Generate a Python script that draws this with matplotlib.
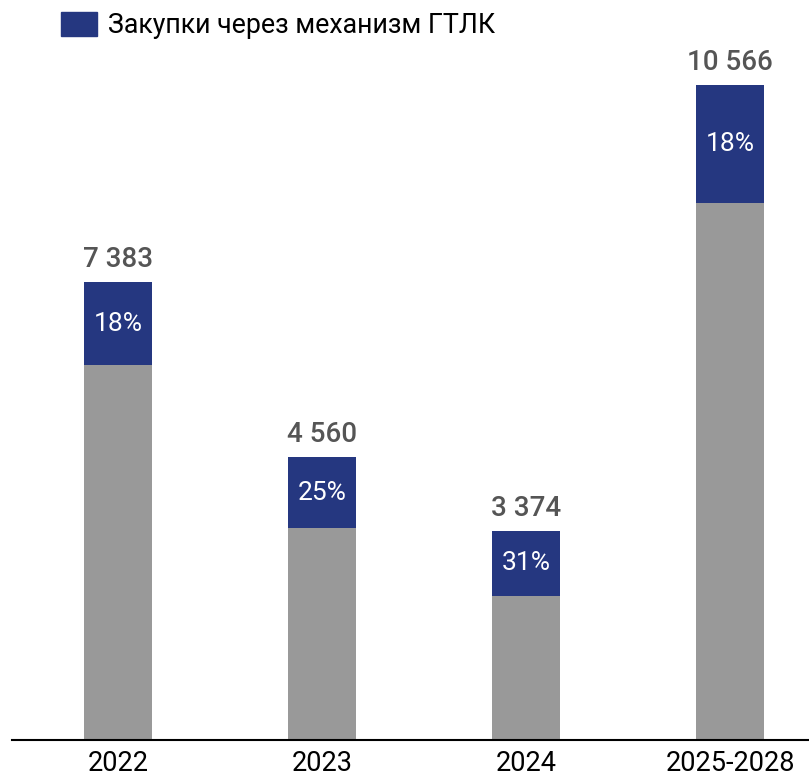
import matplotlib.pyplot as plt
from matplotlib.patches import Patch

# dane z wykresu
categories = ['2022', '2023', '2024', '2025-2028']
totals = [7383, 4560, 3374, 10566]
total_labels = ['7 383', '4 560', '3 374', '10 566']
shares = [0.18, 0.25, 0.31, 0.18]
share_labels = ['18%', '25%', '31%', '18%']
legend_label = 'Закупки через механизм ГТЛК'

blue = '#253780'
grey = '#999999'

plt.rcParams['font.family'] = ['Roboto', 'DejaVu Sans']

fig = plt.figure(figsize=(8.09, 7.76), dpi=100)
ax = fig.add_axes([12 / 809, 36 / 776, 797 / 809, 690 / 776])

x = range(len(categories))
gtlk = [t * s for t, s in zip(totals, shares)]
rest = [t - g for t, g in zip(totals, gtlk)]

ax.bar(x, rest, width=0.333, color=grey)
ax.bar(x, gtlk, bottom=rest, width=0.333, color=blue)

for i in x:
    ax.text(i, rest[i] + gtlk[i] / 2, share_labels[i], ha='center', va='center',
            color='white', fontsize=19)
    ax.text(i, totals[i] + 150, total_labels[i], ha='center', va='bottom',
            color='#555555', fontsize=20, fontweight='medium')

ax.set_xlim(-0.52, 3.387)
ax.set_ylim(0, 11131)
ax.set_xticks(list(x))
ax.set_xticklabels(categories, fontsize=19.5, family=['Liberation Sans Narrow', 'Roboto'])
ax.tick_params(axis='x', length=0, pad=7)
ax.set_yticks([])
for s in ['top', 'right', 'left']:
    ax.spines[s].set_visible(False)
ax.spines['bottom'].set_linewidth(1.5)

fig.legend(handles=[Patch(color=blue, label=legend_label)], loc='upper left',
           bbox_to_anchor=(61 / 809, 1 - 12 / 776), frameon=False, fontsize=19.3,
           handlelength=1.35, handleheight=1.0, handletextpad=0.4, borderpad=0,
           borderaxespad=0)

fig.savefig('out.png', dpi=100)
